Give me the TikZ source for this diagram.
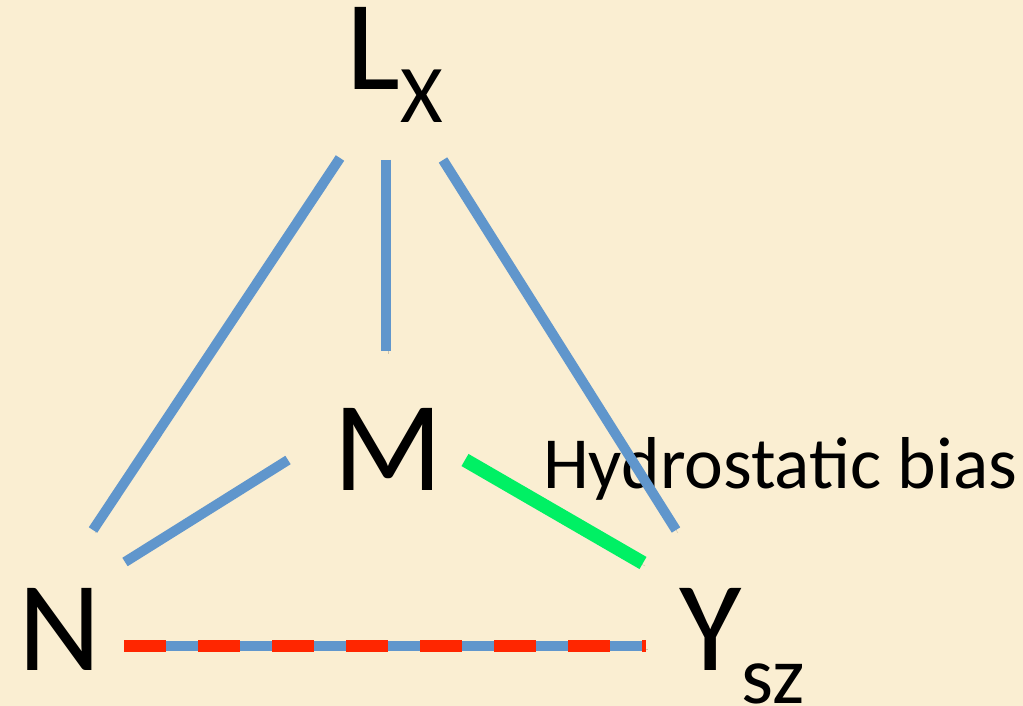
\documentclass[tikz,border=0pt]{standalone}
\usepackage{fontspec}
\setmainfont{Carlito}
\usepackage{xcolor}
\usepackage{tikz}
\definecolor{paper}{RGB}{250,238,210}
\definecolor{linkblue}{RGB}{96,150,204}
\definecolor{biasgreen}{RGB}{0,240,100}
\definecolor{dashred}{RGB}{255,38,0}
\newcommand{\vertexlab}[1]{\fontsize{128}{128}\selectfont #1}
\newcommand{\vertexsub}[1]{\raisebox{-33pt}{\fontsize{82}{82}\selectfont #1}}
\tikzset{
  lab/.style={anchor=base west,inner sep=0pt,text=black},
  shadowed/.style={preaction={draw=black,opacity=.18,transform canvas={shift={(2pt,-3pt)}}}},
  link/.style={draw=linkblue,line width=10pt,shadowed},
}

\begin{document}
\begin{tikzpicture}[x=1pt,y=-1pt]
\fill[paper] (0,0) rectangle (1023,706);
\useasboundingbox (0,0) rectangle (1023,706);
%
\node[lab] (L) at (346,90) {\vertexlab{L}\vertexsub{X}};
\node[lab] (M) at (333,490) {\vertexlab{M}};
\node[lab] (N) at (18,670) {\vertexlab{N}};
\node[lab] (Y) at (679,670) {\vertexlab{Y}\vertexsub{sz}};
\node[lab,font=\fontsize{73.5}{73.5}\selectfont] (bias) at (543,488) {Hydrostatic bias};
%
\coordinate (L-N) at (340,158);
\coordinate (L-M) at (386,160);
\coordinate (L-Y) at (443,160);
\coordinate (M-L) at (386,351);
\coordinate (M-N) at (288,460);
\coordinate (M-Y) at (465,460);
\coordinate (N-L) at (93,530);
\coordinate (N-M) at (125,562);
\coordinate (N-Y) at (124,646);
\coordinate (Y-L) at (676,530);
\coordinate (Y-M) at (643,563);
\coordinate (Y-N) at (646,646);
%
\draw[link] (L-N) -- (N-L);
\draw[link] (L-M) -- (M-L);
\draw[link] (L-Y) -- (Y-L);
\draw[link] (M-N) -- (N-M);
\draw[link] (N-Y) -- (Y-N);
\draw[dashred,line width=12pt,dash pattern=on 42pt off 32pt] (N-Y) -- (Y-N);
%
\draw[biasgreen,line width=14pt,shadowed] (M-Y) -- (Y-M);
\end{tikzpicture}
\end{document}
